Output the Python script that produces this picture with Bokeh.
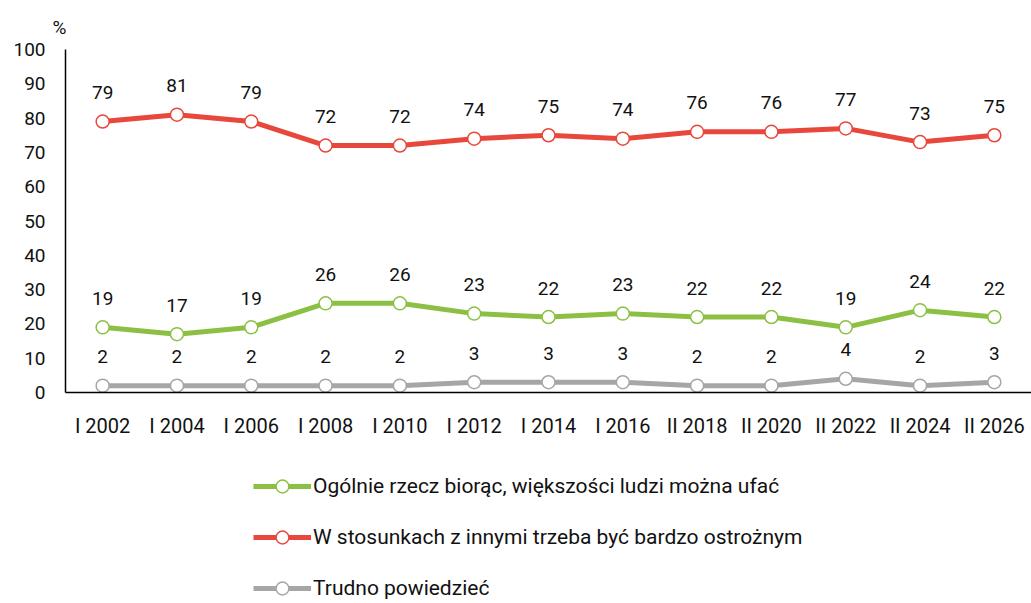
from bokeh.plotting import figure
from bokeh.models import (ColumnDataSource, LabelSet, Legend, LegendItem, Range1d,
                          FixedTicker, FactorRange)
from bokeh.layouts import column
from bokeh.core.properties import value
from bokeh.embed import file_html
from bokeh.resources import INLINE

categories = ["I 2002", "I 2004", "I 2006", "I 2008", "I 2010", "I 2012", "I 2014",
              "I 2016", "II 2018", "II 2020", "II 2022", "II 2024", "II 2026"]
trust = [19, 17, 19, 26, 26, 23, 22, 23, 22, 22, 19, 24, 22]
careful = [79, 81, 79, 72, 72, 74, 75, 74, 76, 76, 77, 73, 75]
hard = [2, 2, 2, 2, 2, 3, 3, 3, 2, 2, 4, 2, 3]
y_ticks = list(range(0, 101, 10))

series = [
    ("Ogólnie rzecz biorąc, większości ludzi można ufać", trust, "#8CC044"),
    ("W stosunkach z innymi trzeba być bardzo ostrożnym", careful, "#E8483C"),
    ("Trudno powiedzieć", hard, "#A6A6A6"),
]

FONT = "Roboto"
FS = "19px"
TXT = "#111111"

# main chart
p = figure(width=1031, height=450, x_range=FactorRange(*categories),
           y_range=Range1d(0, 100), output_backend="svg", toolbar_location=None,
           min_border_left=65, min_border_right=0, min_border_top=49,
           min_border_bottom=58, title="%")
p.outline_line_color = None
p.xgrid.grid_line_color = None
p.ygrid.grid_line_color = None
p.background_fill_color = "white"
p.border_fill_color = "white"

p.title.text_font = FONT
p.title.text_font_size = FS
p.title.text_font_style = "normal"
p.title.text_color = TXT
p.title.align = "left"
p.title.offset = -13
p.title.standoff = 21

for ax in (p.xaxis[0], p.yaxis[0]):
    ax.axis_line_color = "black"
    ax.axis_line_width = 1.5
    ax.major_tick_line_color = None
    ax.minor_tick_line_color = None
    ax.major_tick_out = 0
    ax.major_tick_in = 0
    ax.minor_tick_out = 0
    ax.major_label_text_font = FONT
    ax.major_label_text_font_size = FS
    ax.major_label_text_color = TXT
p.yaxis.ticker = FixedTicker(ticks=y_ticks)
p.yaxis.major_label_standoff = 20
p.xaxis.major_label_standoff = 21
p.xaxis.major_label_text_font_size = "20px"

# legend strip below the chart
p2 = figure(width=1031, height=153, x_range=FactorRange(*categories),
            y_range=Range1d(1000, 1001), output_backend="svg", toolbar_location=None,
            x_axis_type=None, y_axis_type=None,
            min_border_left=0, min_border_right=0, min_border_top=0,
            min_border_bottom=0)
p2.outline_line_color = None
p2.background_fill_color = "white"
p2.border_fill_color = "white"

items = []
for name, vals, color in series:
    src = ColumnDataSource(dict(x=categories, y=vals, t=[str(v) for v in vals]))
    p.line("x", "y", source=src, line_color=color, line_width=5)
    p.scatter("x", "y", source=src, size=13, fill_color="white",
              line_color=color, line_width=1.5)
    labels = LabelSet(x="x", y="y", text="t", source=src, y_offset=29,
                      text_align="center", text_baseline="middle",
                      text_font=value(FONT), text_font_size=value(FS),
                      text_color=TXT)
    p.add_layout(labels)
    # same series in the legend strip (outside its visible range), for legend glyphs
    ln2 = p2.line("x", "y", source=src, line_color=color, line_width=5)
    mk2 = p2.scatter("x", "y", source=src, size=13, fill_color="white",
                     line_color=color, line_width=1.5)
    items.append(LegendItem(label=name, renderers=[ln2, mk2]))

legend = Legend(items=items, location=(188, -1), orientation="vertical",
                glyph_width=58, glyph_height=32, label_height=32, spacing=19,
                padding=0, margin=0, border_line_color=None,
                background_fill_alpha=0, label_text_font=FONT,
                label_text_font_size="21px", label_text_color=TXT,
                label_standoff=2)
p2.add_layout(legend, "center")

layout = column(p, p2, spacing=0)
open("out.html", "w").write(file_html(layout, INLINE))
